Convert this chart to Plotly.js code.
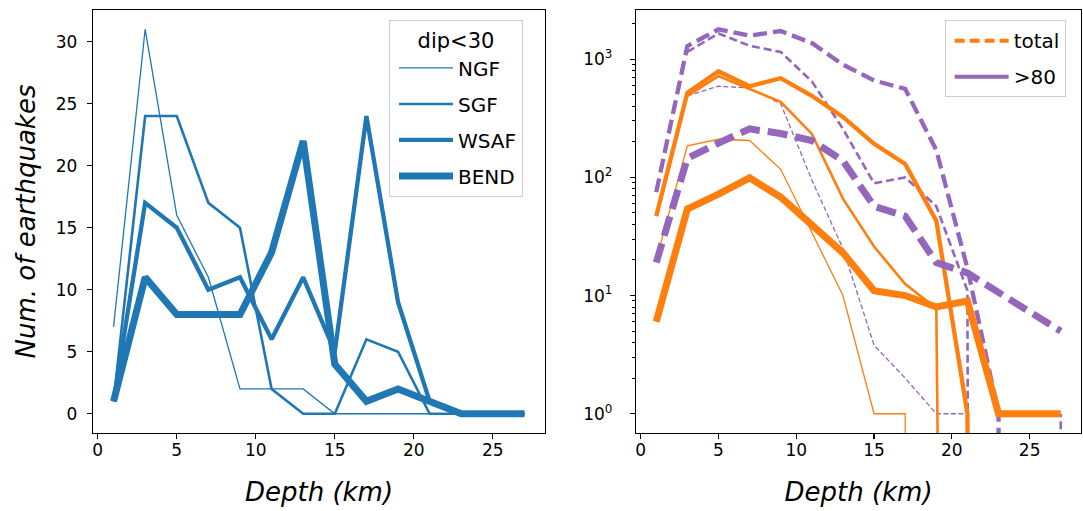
<!DOCTYPE html>
<html>
<head>
<meta charset="utf-8">
<script src="https://cdn.plot.ly/plotly-3.0.1.min.js"></script>
<style>html,body{margin:0;padding:0;background:#fff}#chart{width:1083px;height:511px}</style>
</head>
<body>
<div id="chart"></div>
<script>
// ---- data ----
const depth = [1, 3, 5, 7, 9, 11, 13, 15, 17, 19, 21, 23, 25, 27];
const regions = ['NGF', 'SGF', 'WSAF', 'BEND'];

// left panel: dip<30 counts
const ngf  = [7, 31, 16, 11, 2, 2, 2, 0, 0, 0, 0, 0, 0, 0];
const sgf  = [1, 24, 24, 17, 15, 2, 0, 0, 6, 5, 0, 0, 0, 0];
const wsaf = [1, 17, 15, 10, 11, 6, 11, 5, 24, 9, 1, 0, 0, 0];
const bend = [1, 11, 8, 8, 8, 13, 22, 4, 1, 2, 1, 0, 0, 0];

// right panel (log scale), orange solid lines
const orangeNGF  = [20, 185, 210, 205, 117, 34, 10, 1, 1, 0, 0, 0, 0, 0];
const orangeSGF  = [null, 490, 720, 560, 435, 233, 66, 26, 12.5, 7.8, 0, 0, 0, 0];
const orangeWSAF = [47, 520, 790, 590, 690, 490, 325, 192, 130, 43, 1, 0, 0, 0];
const orangeBEND = [6, 54, 72, 99, 68, 40, 23, 11, 10, 8, 9, 1, 1, 1];
// right panel, purple dashed lines
const purpleNGF  = [null, 490, 590, 570, 420, 95, 25, 3.8, 2, 1, 1, 0, 0, 0];
const purpleSGF  = [null, 1150, 1650, 1300, 1150, 650, 257, 89, 100, 57, 11, 0, 0, 1];
const purpleWSAF = [75, 1290, 1790, 1580, 1730, 1370, 900, 660, 560, 170, 17, 1, 0, 0];
const purpleBEND = [19, 145, 195, 257, 235, 205, 138, 57, 47, 19, 15.5, 10.5, 7.2, 5];

const legendLabels = ['total', '>80'];
const leftLegendTitle = 'dip<30';

// ---- styles ----
const BLUE = '#1f77b4', ORANGE = '#ff7f0e', PURPLE = '#9467bd';
const widths = [1.3, 2.6, 4.3, 7];
const purpleDash = ['5px,2.5px', '8px,4px', '14px,6px', '20px,8px'];
const FONT = 'DejaVu Sans';

// matplotlib 'clip' behaviour for non-positive values on a log axis
const clipLog = arr => arr.map(v => v === null ? null : (v > 0 ? v : 1e-100));

const traces = [];
[ngf, sgf, wsaf, bend].forEach((ys, i) => {
  traces.push({
    x: depth, y: ys, xaxis: 'x', yaxis: 'y', mode: 'lines', name: regions[i],
    legendgroup: regions[i],
    line: {color: BLUE, width: widths[i]}, legend: 'legend', hoverinfo: 'skip'
  });
});
const oranges = [orangeNGF, orangeSGF, orangeWSAF, orangeBEND];
const purples = [purpleNGF, purpleSGF, purpleWSAF, purpleBEND];
for (let i = 0; i < 4; i++) {
  traces.push({
    x: depth, y: clipLog(oranges[i]), xaxis: 'x2', yaxis: 'y2', mode: 'lines',
    line: {color: ORANGE, width: widths[i]}, showlegend: false, hoverinfo: 'skip'
  });
  traces.push({
    x: depth, y: clipLog(purples[i]), xaxis: 'x2', yaxis: 'y2', mode: 'lines',
    line: {color: PURPLE, width: widths[i], dash: purpleDash[i]}, showlegend: false, hoverinfo: 'skip'
  });
}
// legend proxies for right panel
traces.push({x: [null], y: [null], xaxis: 'x2', yaxis: 'y2', mode: 'lines', name: legendLabels[0],
  legendgroup: 'g1', line: {color: ORANGE, width: 4, dash: '10px,5px'}, legend: 'legend2'});
traces.push({x: [null], y: [null], xaxis: 'x2', yaxis: 'y2', mode: 'lines', name: legendLabels[1],
  legendgroup: 'g2', line: {color: PURPLE, width: 4}, legend: 'legend2'});

const minorVals = [];
for (let d = 0; d < 4; d++) for (let k = 2; k <= 9; k++) minorVals.push(k * Math.pow(10, d));

const axBase = {
  showline: true, mirror: true, linecolor: 'black', linewidth: 1.2,
  ticks: 'outside', ticklen: 5, tickwidth: 1.2, tickcolor: 'black',
  showgrid: false, zeroline: false,
  tickfont: {family: FONT, size: 17, color: 'black'}
};
const xTitle = {text: '<i>Depth (km)</i>', font: {family: FONT, size: 26, color: 'black'}, standoff: 24};

const layout = {
  width: 1083, height: 511,
  margin: {l: 93, r: 2, t: 10, b: 78},
  paper_bgcolor: 'white', plot_bgcolor: 'white',
  font: {family: FONT, color: 'black'},
  xaxis: Object.assign({}, axBase, {domain: [0, 0.4575], range: [-0.3, 28.3],
    tickvals: [0, 5, 10, 15, 20, 25], anchor: 'y', title: xTitle, ticklabelstandoff: -4}),
  yaxis: Object.assign({}, axBase, {domain: [0, 1], range: [-1.55, 32.55],
    tickvals: [0, 5, 10, 15, 20, 25, 30], anchor: 'x', ticklabelstandoff: 6,
    title: {text: '<i>Num. of earthquakes</i>', font: {family: FONT, size: 26, color: 'black'}, standoff: 12}}),
  xaxis2: Object.assign({}, axBase, {domain: [0.5496, 1], range: [-0.3, 28.3],
    tickvals: [0, 5, 10, 15, 20, 25], anchor: 'y2', title: xTitle, ticklabelstandoff: -4}),
  yaxis2: Object.assign({}, axBase, {domain: [0, 1], type: 'log', range: [-0.163, 3.416],
    tickvals: [1, 10, 100, 1000],
    ticktext: ['10<sup>0</sup>', '10<sup>1</sup>', '10<sup>2</sup>', '10<sup>3</sup>'],
    anchor: 'x2', ticklabelstandoff: 14,
    minor: {tickvals: minorVals, ticks: 'outside', ticklen: 3, tickwidth: 1, tickcolor: 'black', showgrid: false}}),
  legend: {x: 0.2996, y: 0.976, xanchor: 'left', yanchor: 'top',
    bgcolor: 'white', bordercolor: '#cccccc', borderwidth: 1,
    font: {family: FONT, size: 20, color: 'black'}, itemwidth: 54, indentation: 4, tracegroupgap: 7,
    title: {text: leftLegendTitle, side: 'top center', font: {family: FONT, size: 21, color: 'black'}}},
  legend2: {x: 0.862, y: 0.976, xanchor: 'left', yanchor: 'top',
    bgcolor: 'white', bordercolor: '#cccccc', borderwidth: 1,
    font: {family: FONT, size: 20, color: 'black'}, itemwidth: 54, indentation: 4, tracegroupgap: 7}
};

Plotly.newPlot('chart', traces, layout, {displayModeBar: false, staticPlot: true});
</script>
</body>
</html>
